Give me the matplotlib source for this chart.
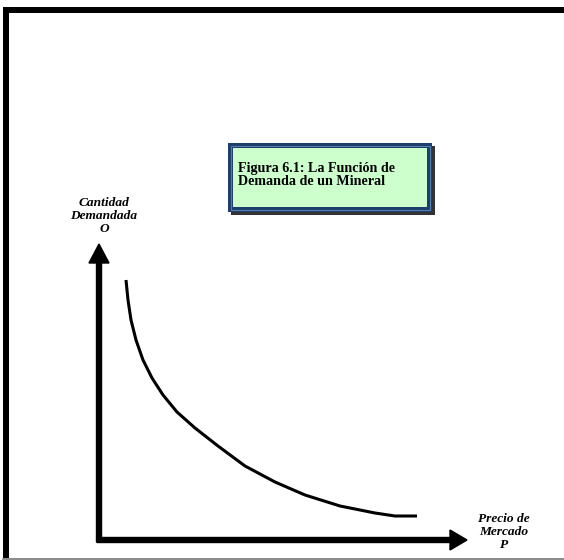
import matplotlib
matplotlib.use("Agg")
import matplotlib.pyplot as plt
from matplotlib.patches import Rectangle, FancyArrow

# Demand curve data (price P, quantity Q) in arbitrary units
price = [26, 28, 31, 36, 43, 52, 63, 77, 95, 118, 145, 175, 205, 240, 275, 295, 317]
quantity = [259, 239, 219, 199, 179, 161, 144, 127, 111, 93, 73, 57, 44, 33, 26, 23, 23]

title_text = "Figura 6.1: La Función de\nDemanda de un Mineral"
y_label = "Cantidad\nDemandada\nO"
x_label = "Precio de\nMercado\nP"

fig = plt.figure(figsize=(5.64, 5.60), dpi=100)
bg = fig.add_axes([0, 0, 1, 1])
bg.set_xlim(0, 564)
bg.set_ylim(560, 0)
bg.axis("off")

# outer frame
bg.add_patch(Rectangle((3, 7), 561, 6, color="black", lw=0))
bg.add_patch(Rectangle((3, 7), 6, 551, color="black", lw=0))
bg.plot([3, 564], [558.5, 558.5], color="#777777", lw=1.2)

# title box
bg.add_patch(Rectangle((231, 146), 204, 69, color="#333333", lw=0))
bg.add_patch(Rectangle((228, 143), 204, 69, color="#1f3d6b", lw=0))
bg.add_patch(Rectangle((230.5, 145.5), 199, 64, facecolor="none",
                       edgecolor="#4f7fae", lw=0.8))
bg.add_patch(Rectangle((233, 148), 194, 59, color="#ccffcc", lw=0))
bg.text(238, 175, title_text, fontsize=10.2, fontweight="bold",
        family="Liberation Serif", va="center", ha="left", linespacing=1.08)

# axis labels
bg.text(104, 216, y_label, fontsize=9.6, fontweight="bold", style="italic",
        family="Liberation Serif", ha="center", va="center", linespacing=1.1)
bg.text(504, 532, x_label, fontsize=9.6, fontweight="bold", style="italic",
        family="Liberation Serif", ha="center", va="center", linespacing=1.1)

# data axes
x0, y0, w, h = 100, 539, 368, 299
ax = fig.add_axes([x0 / 564, (560 - y0) / 560, w / 564, h / 560])
ax.set_xlim(0, w)
ax.set_ylim(0, h)
ax.axis("off")

# axis arrows
ax.add_patch(FancyArrow(-1, -3, 0, h - 1, width=5, head_width=20,
                        head_length=19, length_includes_head=True,
                        color="black", clip_on=False))
ax.add_patch(FancyArrow(-3, -1, w + 2, 0, width=5, head_width=20,
                        head_length=17, length_includes_head=True,
                        color="black", clip_on=False))

ax.plot(price, quantity, color="black", lw=2.2, solid_capstyle="butt",
        solid_joinstyle="round", clip_on=False)

fig.savefig("out.png", dpi=100)
